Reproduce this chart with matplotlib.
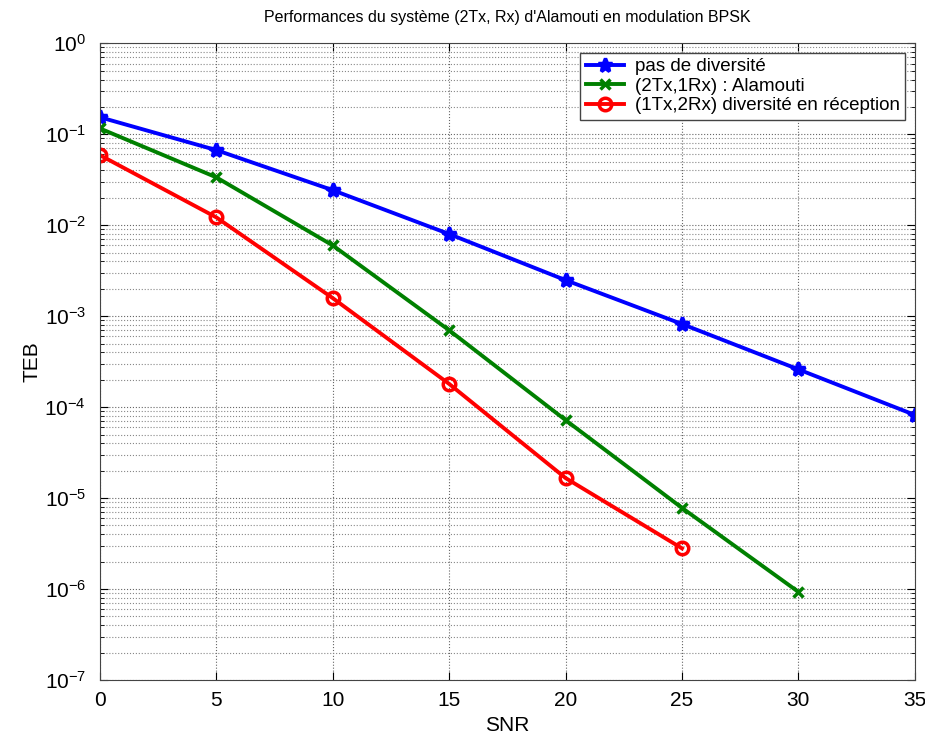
import numpy as np
import matplotlib
matplotlib.use('Agg')
import matplotlib.pyplot as plt
from matplotlib.ticker import FixedLocator, NullFormatter

plt.rcParams['font.family'] = ['Liberation Sans', 'DejaVu Sans']

##données
snr_1 = [0, 5, 10, 15, 20, 25, 30, 35]
teb_sans = [0.154, 0.067, 0.0243, 0.0080, 0.00249, 8.2e-4, 2.6e-4, 8.2e-5]

snr_2 = [0, 5, 10, 15, 20, 25, 30]
teb_alamouti = [0.116, 0.0336, 0.0060, 7.0e-4, 7.2e-5, 7.8e-6, 9.3e-7]

snr_3 = [0, 5, 10, 15, 20, 25]
teb_mrc = [0.059, 0.0122, 1.58e-3, 1.8e-4, 1.66e-5, 2.8e-6]

labels = ['pas de diversité', '(2Tx,1Rx) : Alamouti', '(1Tx,2Rx) diversité en réception']
decades = np.arange(-7, 1)

fig = plt.figure(figsize=(9.25, 7.42), dpi=100)
ax = fig.add_axes([0.108, 0.0836, 0.881, 0.858])

ax.semilogy(snr_1, teb_sans, color=(0, 0, 1), lw=2.8, marker='*', ms=10, mew=2.5, label=labels[0])
ax.semilogy(snr_2, teb_alamouti, color=(0, 0.5, 0), lw=2.8, marker='x', ms=7, mew=2.5, label=labels[1])
ax.semilogy(snr_3, teb_mrc, color=(1, 0, 0), lw=2.8, marker='o', ms=9, mew=2.5, mfc='none', label=labels[2])

ax.set_xlim(0, 35)
ax.set_ylim(1e-7, 1)
ax.set_xticks(np.arange(0, 36, 5))
ax.set_yticks(10.0 ** decades, [r'$\mathdefault{10^{%d}}$' % d for d in decades])
minor = [m * 10.0 ** d for d in decades[:-1] for m in range(2, 10)]
ax.yaxis.set_minor_locator(FixedLocator(minor))
ax.yaxis.set_minor_formatter(NullFormatter())

ax.grid(True, which='major', ls=':', color='#666666', lw=0.8)
ax.grid(True, which='minor', axis='y', ls=':', color='#888888', lw=0.8)
ax.tick_params(which='both', direction='in', top=True, right=True, labelsize=15)
ax.tick_params(which='major', length=6)
ax.tick_params(axis='y', which='major', pad=10)
ax.tick_params(axis='x', which='major', pad=8)
ax.tick_params(which='minor', length=3)
for s in ax.spines.values():
    s.set_color('#444444')

ax.set_title("Performances du système (2Tx, Rx) d'Alamouti en modulation BPSK", fontsize=11.5, pad=15)
ax.set_xlabel('SNR', fontsize=15, labelpad=4)
ax.set_ylabel('TEB', fontsize=15)
ax.yaxis.set_label_coords(-0.072, 0.5)

leg = ax.legend(loc='upper right', fontsize=13.5, fancybox=False, framealpha=1,
                edgecolor='#444444', borderaxespad=0.5, handlelength=2.0, handletextpad=0.6,
                labelspacing=0.12, borderpad=0.3)
leg.get_frame().set_linewidth(1.0)

fig.savefig('out.png', dpi=100)
